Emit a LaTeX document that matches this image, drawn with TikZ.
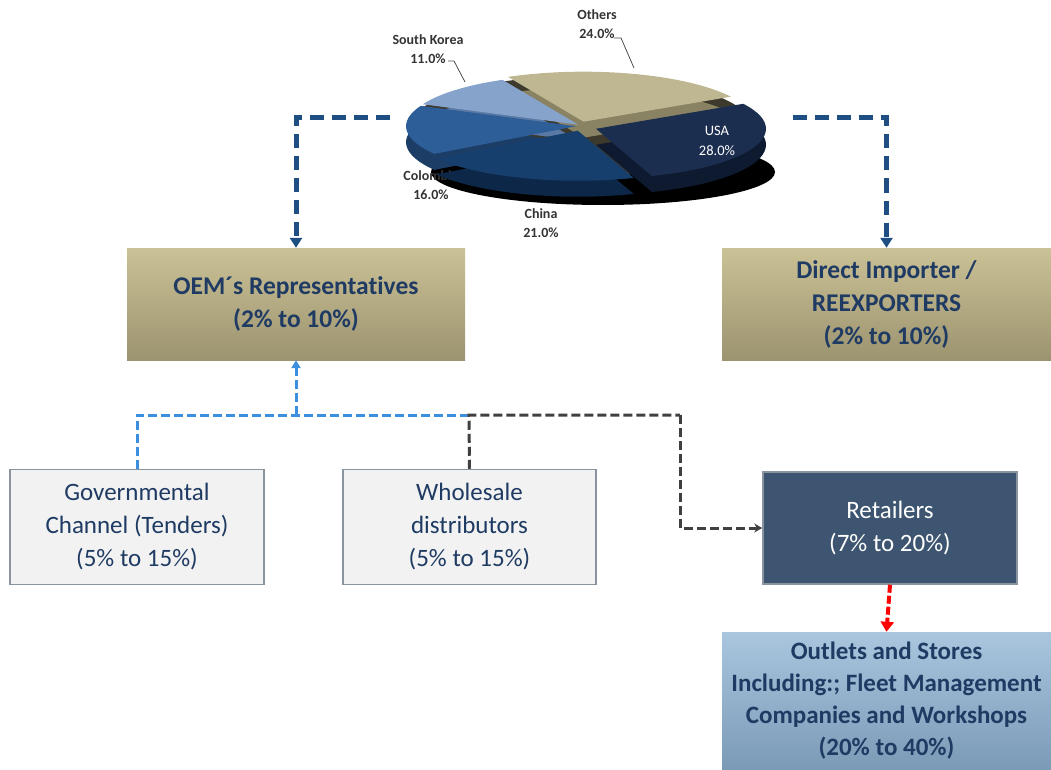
\documentclass[tikz,border=0pt]{standalone}
\usepackage{fontspec}
\setmainfont{Carlito}[Ligatures=NoCommon]
\usetikzlibrary{arrows.meta}
\definecolor{navy}{HTML}{1F3B63}
\definecolor{tantop}{HTML}{CBC196}
\definecolor{tanbot}{HTML}{9C9470}
\definecolor{skytop}{HTML}{AAC6DF}
\definecolor{skybot}{HTML}{7B9AB6}
\definecolor{slate}{HTML}{3D5570}
\definecolor{edgegrey}{HTML}{8A949E}
\definecolor{darkdash}{HTML}{1F4E82}
\definecolor{lightdash}{HTML}{3C8FDE}
\definecolor{greydash}{HTML}{404040}
\definecolor{usac}{HTML}{1C2E4F}\definecolor{usas}{HTML}{0E1A30}
\definecolor{chinac}{HTML}{173F6D}\definecolor{chinas}{HTML}{0D2748}
\definecolor{colc}{HTML}{2E5E98}\definecolor{cols}{HTML}{1B3D66}
\definecolor{korc}{HTML}{86A3CC}\definecolor{kors}{HTML}{5A7AA5}
\definecolor{othc}{HTML}{BFB792}\definecolor{oths}{HTML}{8A8363}
\tikzset{
  tanbox/.style={top color=tantop, bottom color=tanbot, draw=none, align=center,
    text=navy, font=\fontsize{25.5}{33}\selectfont\bfseries},
  greybox/.style={fill=black!5, draw=edgegrey, line width=1.5pt, align=center,
    text=navy, font=\fontsize{25}{33}\selectfont},
  slatebox/.style={fill=slate, draw=edgegrey, line width=1.5pt, align=center,
    text=white, font=\fontsize{25}{33}\selectfont},
  skybox/.style={top color=skytop, bottom color=skybot, draw=none, align=center,
    text=navy, font=\fontsize{25}{32}\selectfont\bfseries},
  piefont/.style={font=\fontsize{14}{18.5}\selectfont\bfseries, text=black!80, align=center},
  bigdash/.style={draw=darkdash, line width=5pt, dash pattern=on 14pt off 8pt},
  lbdash/.style={draw=lightdash, line width=3pt, dash pattern=on 9pt off 4pt},
  gydash/.style={draw=greydash, line width=3pt, dash pattern=on 9pt off 4pt},
  reddash/.style={draw=red, line width=4pt, dash pattern=on 8pt off 3pt},
}
\begin{document}
\begin{tikzpicture}[x=1pt,y=-1pt]
\useasboundingbox (0,0) rectangle (1051,770);

%pie shadow and labels
\fill[black] (603,172) ellipse [x radius=172, y radius=33];
\node[piefont] (lblcol) at (431,185) {Colombia\\16.0\%};
\node[piefont] (lblkor) at (428,49) {South Korea\\11.0\%};
\node[piefont] (lbloth) at (597,24) {Others\\24.0\%};
\node[piefont] (lblchn) at (541,223) {China\\21.0\%};
\draw[black!70, line width=0.8pt] (448,61) -- (454,61) -- (465,82);
\draw[black!70, line width=0.8pt] (614,38) -- (621,38) -- (634,68);

%pie slices
\begin{scope}[shift={(581,126)}, yscale=-1]
 \fill[black!75!olive] (0,0) ellipse [x radius=170, y radius=50];
 \foreach \sa/\ea/\side/\ex in {30/-70.8/usas/16, -70.8/-146.4/chinas/10, -146.4/-204/cols/5, 156/116.4/kors/4, 116.4/30/oths/9}
  \fill[\side] ({(\sa+\ea)/2}:{\ex} and {0.5*\ex}) ++(0,-16) -- ++(\sa:170 and 50)
    arc[start angle=\sa, end angle=\ea, x radius=170, y radius=50] -- cycle;
 \foreach \sa/\ea/\top/\ex in {30/-70.8/usac/16, -70.8/-146.4/chinac/10, -146.4/-204/colc/5, 156/116.4/korc/4, 116.4/30/othc/9}
  \fill[\top] ({(\sa+\ea)/2}:{\ex} and {0.5*\ex}) -- ++(\sa:170 and 50)
    arc[start angle=\sa, end angle=\ea, x radius=170, y radius=50] -- cycle;
\end{scope}
\node[font=\fontsize{14.5}{19.5}\selectfont, text=white, align=center] (lblusa) at (717,141) {USA\\28.0\%};

%boxes
\node[tanbox, minimum width=338pt, minimum height=112pt] (oem) at (296,304)
  {OEM\textasciiacute s Representatives\\(2\% to 10\%)};
\node[tanbox, minimum width=329pt, minimum height=112pt] (direct) at (886.5,304)
  {Direct Importer /\\REEXPORTERS\\(2\% to 10\%)};
\node[greybox, minimum width=254pt, minimum height=115pt] (gov) at (137,527)
  {Governmental\\Channel (Tenders)\\(5\% to 15\%)};
\node[greybox, minimum width=253pt, minimum height=115pt] (whole) at (469.5,527)
  {Wholesale\\distributors\\(5\% to 15\%)};
\node[slatebox, minimum width=254pt, minimum height=112pt] (retail) at (890,528)
  {Retailers\\(7\% to 20\%)};
\node[skybox, minimum width=329pt, minimum height=138pt] (outlets) at (886.5,701)
  {Outlets and Stores\\Including:; Fleet Management\\Companies and Workshops\\(20\% to 40\%)};

%connectors
\coordinate (pieL) at (390,118);
\coordinate (pieR) at (793,118);
\coordinate (jn) at (469,415);
\coordinate (bend) at (680,415);
\draw[bigdash, -{Triangle[length=10pt,width=12pt]}] (pieL) -| (oem.north);
\draw[bigdash, -{Triangle[length=10pt,width=12pt]}] (pieR) -| (direct.north);
\draw[lbdash] (gov.north) |- (jn);
\draw[lbdash, -{Triangle[length=8pt,width=9pt]}] (oem.south |- jn) -- (oem.south);
\draw[gydash] (whole.north) -- (jn) -- (bend);
\draw[gydash, -{Stealth[length=8pt,width=9pt]}] (bend) |- (retail.west);
\draw[reddash, -{Triangle[length=10pt,width=13pt]}] (retail.south) -- (outlets.north);
\end{tikzpicture}
\end{document}
